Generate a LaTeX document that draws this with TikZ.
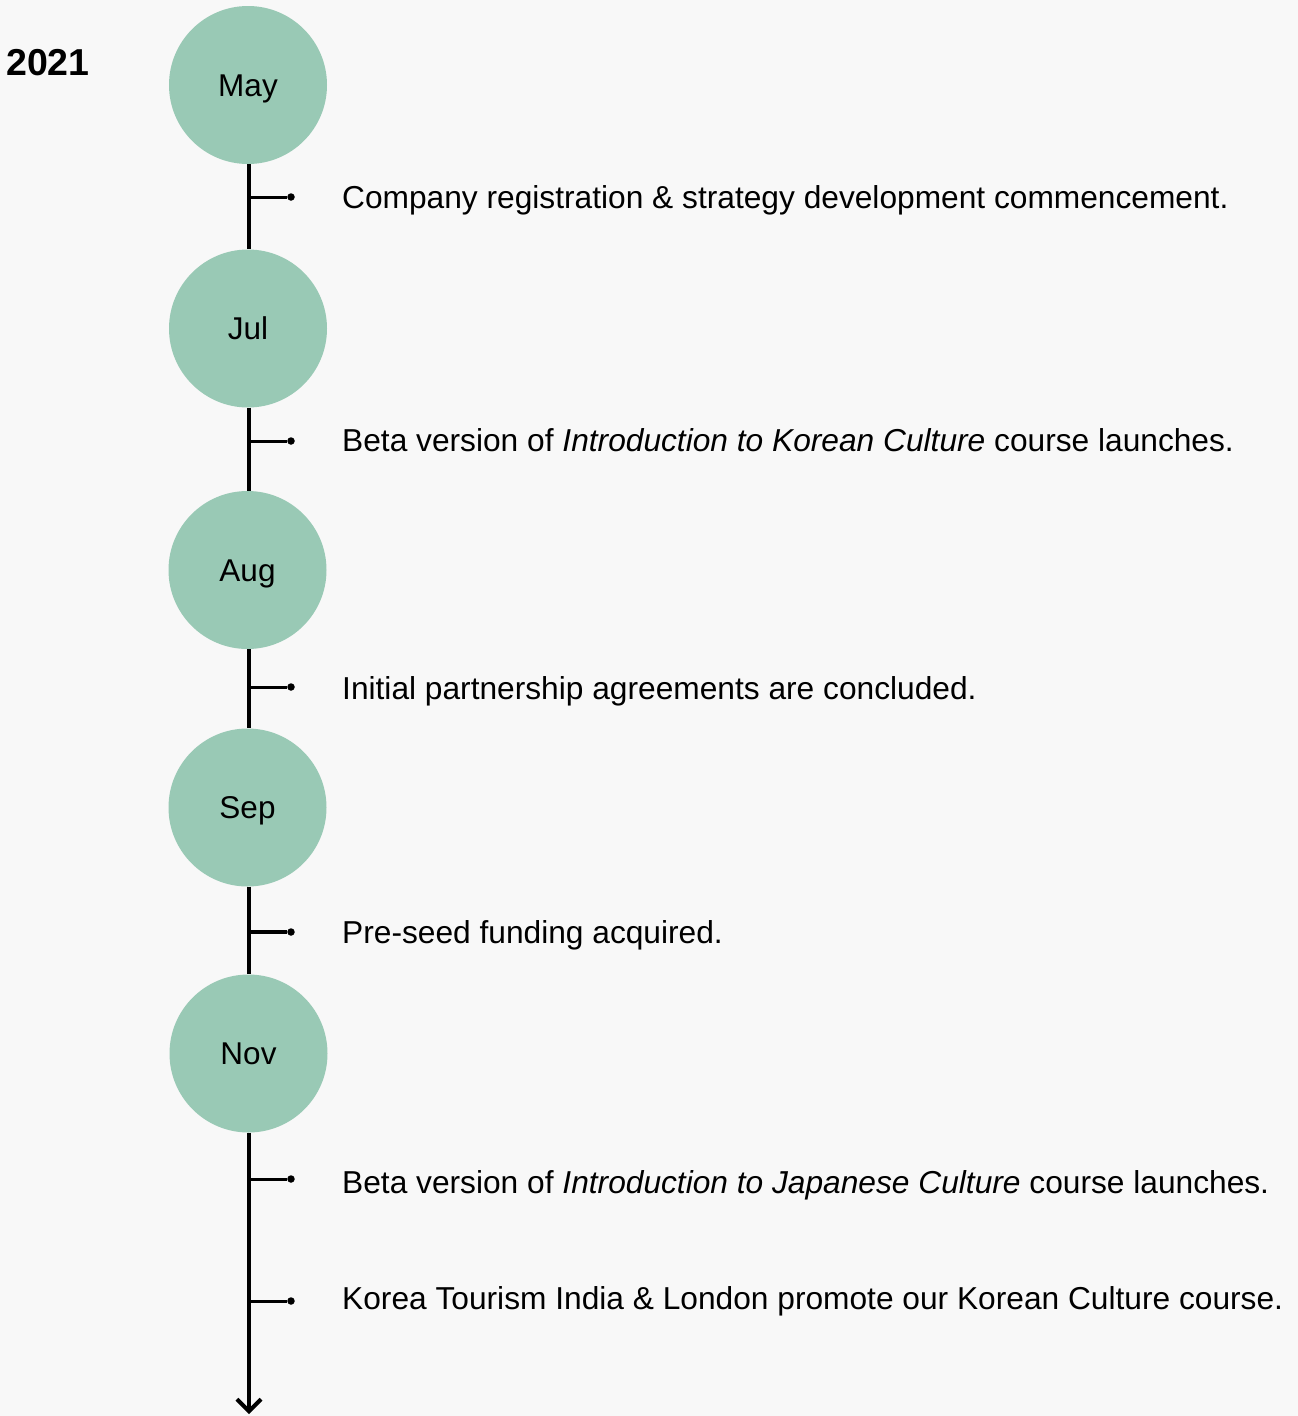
\documentclass[tikz,border=0pt]{standalone}
\usepackage{fontspec}
\setmainfont{Liberation Sans}
\usetikzlibrary{arrows.meta}
\definecolor{bgc}{HTML}{F8F8F8}
\definecolor{mint}{HTML}{99C9B5}
\begin{document}
\begin{tikzpicture}[x=1pt,y=-1pt,
  month/.style={circle,fill=mint,minimum size=158pt,inner sep=0pt,
    font=\fontsize{31.5}{36}\selectfont,text height=22.5pt,text depth=0pt},
  axis/.style={line width=3.5pt,black},
  tick/.style={line width=3pt,black},
  dotnode/.style={circle,fill=black,minimum size=7.5pt,inner sep=0pt},
  event/.style={anchor=base west,inner sep=0pt,font=\fontsize{31.7}{36}\selectfont}]
\fill[bgc] (0,0) rectangle (1298,1416);
\useasboundingbox (0,0) rectangle (1298,1416);
\node[anchor=base west,inner sep=0pt,font=\fontsize{37.5}{42}\selectfont\bfseries] (yr) at (6,75) {2021};
\node[month] (may) at (248,85) {May};
\node[month] (jul) at (248,328.5) {Jul};
\node[month] (aug) at (247.5,570) {Aug};
\node[month] (sep) at (247.5,807.5) {Sep};
\node[month] (nov) at (248.5,1053.5) {Nov};
\coordinate (end) at (249,1414);
\draw[axis] (may.south -| 249,0) -- (jul.north -| 249,0);
\draw[axis] (jul.south -| 249,0) -- (aug.north -| 249,0);
\draw[axis] (aug.south -| 249,0) -- (sep.north -| 249,0);
\draw[axis] (sep.south -| 249,0) -- (nov.north -| 249,0);
\draw[axis,-{Straight Barb[length=12pt,width=24pt,line width=4pt]}] (nov.south -| 249,0) -- (end);
\node[dotnode] (d1) at (291,197) {};
\node[dotnode] (d2) at (291,441) {};
\node[dotnode] (d3) at (291,687) {};
\node[dotnode] (d4) at (291,932) {};
\node[dotnode] (d5) at (291,1179) {};
\node[dotnode] (d6) at (291,1301) {};
\draw[tick] (249,0 |- d1) -- (d1);
\draw[tick] (249,0 |- d2) -- (d2);
\draw[tick] (249,0 |- d3) -- (d3);
\draw[tick,line width=4pt] (249,0 |- d4) -- (d4);
\draw[tick] (249,0 |- d5) -- (d5);
\draw[tick] (249,0 |- d6) -- (d6);
\node[event] (e1) at (342,208.5) {Company registration \& strategy development commencement.};
\node[event] (e2) at (342,451) {Beta version of \textit{Introduction to Korean Culture} course launches.};
\node[event] (e3) at (342,699) {Initial partnership agreements are concluded.};
\node[event] (e4) at (342,943) {Pre-seed funding acquired.};
\node[event] (e5) at (342,1193) {Beta version of \textit{Introduction to Japanese Culture} course launches.};
\node[event] (e6) at (342,1309.5) {Korea Tourism India \& London promote our Korean Culture course.};
\end{tikzpicture}
\end{document}
